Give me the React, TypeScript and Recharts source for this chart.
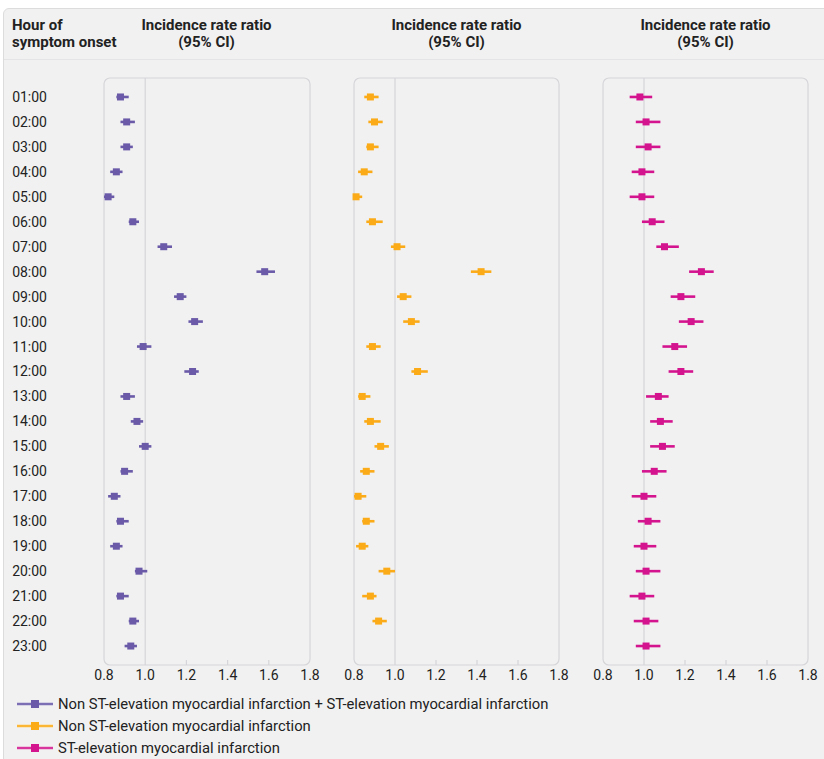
import React from "react"
import {
  ScatterChart,
  Scatter,
  XAxis,
  YAxis,
  ErrorBar,
  ReferenceLine,
  ReferenceArea,
} from "recharts"

const hours = [
  "01:00", "02:00", "03:00", "04:00", "05:00", "06:00", "07:00", "08:00",
  "09:00", "10:00", "11:00", "12:00", "13:00", "14:00", "15:00", "16:00",
  "17:00", "18:00", "19:00", "20:00", "21:00", "22:00", "23:00",
]

// NSTEMI + STEMI
const allRate = [0.88, 0.91, 0.91, 0.86, 0.82, 0.94, 1.09, 1.58, 1.17, 1.24, 0.99, 1.23, 0.91, 0.96, 1.0, 0.9, 0.85, 0.88, 0.86, 0.97, 0.88, 0.94, 0.93]
const allLow = [0.86, 0.88, 0.88, 0.83, 0.8, 0.92, 1.06, 1.54, 1.14, 1.21, 0.96, 1.19, 0.88, 0.93, 0.97, 0.88, 0.82, 0.86, 0.83, 0.95, 0.86, 0.92, 0.9]
const allHigh = [0.92, 0.95, 0.94, 0.89, 0.85, 0.97, 1.13, 1.63, 1.2, 1.28, 1.03, 1.26, 0.95, 0.99, 1.03, 0.94, 0.88, 0.92, 0.89, 1.01, 0.92, 0.97, 0.96]

// NSTEMI
const nstemiRate = [0.88, 0.9, 0.88, 0.85, 0.81, 0.89, 1.01, 1.42, 1.04, 1.08, 0.89, 1.11, 0.84, 0.88, 0.93, 0.86, 0.82, 0.86, 0.84, 0.96, 0.88, 0.92, null]
const nstemiLow = [0.85, 0.87, 0.86, 0.82, 0.8, 0.86, 0.98, 1.37, 1.01, 1.04, 0.86, 1.08, 0.82, 0.85, 0.9, 0.83, 0.8, 0.84, 0.81, 0.92, 0.84, 0.89, null]
const nstemiHigh = [0.92, 0.94, 0.92, 0.89, 0.84, 0.94, 1.05, 1.47, 1.08, 1.12, 0.93, 1.16, 0.88, 0.93, 0.97, 0.9, 0.86, 0.9, 0.87, 1.0, 0.91, 0.96, null]

// STEMI
const stemiRate = [0.98, 1.01, 1.02, 0.99, 0.99, 1.04, 1.1, 1.28, 1.18, 1.23, 1.15, 1.18, 1.07, 1.08, 1.09, 1.05, 1.0, 1.02, 1.0, 1.01, 0.99, 1.01, 1.01]
const stemiLow = [0.93, 0.96, 0.96, 0.94, 0.93, 0.99, 1.06, 1.22, 1.13, 1.17, 1.09, 1.12, 1.01, 1.03, 1.03, 0.99, 0.94, 0.97, 0.95, 0.96, 0.93, 0.95, 0.96]
const stemiHigh = [1.04, 1.08, 1.08, 1.05, 1.05, 1.1, 1.17, 1.34, 1.25, 1.29, 1.21, 1.24, 1.12, 1.14, 1.15, 1.11, 1.06, 1.08, 1.06, 1.08, 1.05, 1.07, 1.08]

const xTicks = [0.8, 1.0, 1.2, 1.4, 1.6, 1.8]

const legendLabels = [
  "Non ST-elevation myocardial infarction + ST-elevation myocardial infarction",
  "Non ST-elevation myocardial infarction",
  "ST-elevation myocardial infarction",
]

const colors = ["#6a5aa8", "#fbab18", "#d3148e"]
const haloColors = ["#b9b1d8", "#fdd791", "#eb9ccb"]

const Y_MIN = -0.76
const Y_MAX = 22.76
const BORDER = "#d6d6da"

function buildRows(rate: (number | null)[], low: (number | null)[], high: (number | null)[]) {
  const rows: { x: number; y: number; err: [number, number] }[] = []
  rate.forEach((r, i) => {
    if (r == null) return
    rows.push({ x: r, y: i, err: [r - (low[i] as number), (high[i] as number) - r] })
  })
  return rows
}

const series = [
  buildRows(allRate, allLow, allHigh),
  buildRows(nstemiRate, nstemiLow, nstemiHigh),
  buildRows(stemiRate, stemiLow, stemiHigh),
]

const Square = (color: string) => (props: any) => {
  const { cx, cy } = props
  if (cx == null || cy == null) return null
  return <rect x={cx - 3.5} y={cy - 3.5} width={7} height={7} fill={color} />
}

function Panel({ idx, left }: { idx: number; left: number }) {
  const first = idx === 0
  const width = first ? 330 : 245
  return (
    <div style={{ position: "absolute", left, top: 0 }}>
      <ScatterChart
        width={width}
        height={700}
        margin={{ top: 78, right: 20, left: first ? 44 : 20, bottom: 5 }}
      >
        <XAxis
          type="number"
          dataKey="x"
          domain={[0.8, 1.8]}
          ticks={xTicks}
          tickFormatter={(v: number) => v.toFixed(1)}
          axisLine={false}
          tickLine={false}
          tickSize={0}
          tickMargin={5}
          height={30}
          interval={0}
          tick={{ fontSize: 14, fill: "#222" }}
        />
        <YAxis
          type="number"
          dataKey="y"
          domain={[Y_MIN, Y_MAX]}
          reversed
          ticks={hours.map((_, i) => i)}
          tickFormatter={(v: number) => hours[v]}
          interval={0}
          hide={!first}
          width={60}
          axisLine={false}
          tickLine={false}
          tickSize={0}
          tickMargin={57}
          tick={{ fontSize: 14, fill: "#222" }}
        />
        <ReferenceArea
          x1={0.8}
          x2={1.8}
          y1={Y_MIN}
          y2={Y_MAX}
          fill="none"
          stroke={BORDER}
          strokeWidth={1.2}
          radius={6}
        />
        <ReferenceLine x={1} stroke={BORDER} strokeWidth={1.2} />
        {xTicks.slice(2, 5).map((t) => (
          <ReferenceLine
            key={t}
            segment={[
              { x: t, y: Y_MAX },
              { x: t, y: Y_MAX - 0.2 },
            ]}
            stroke={BORDER}
            strokeWidth={1.2}
          />
        ))}
        <Scatter
          data={series[idx]}
          fill={colors[idx]}
          shape={Square(colors[idx])}
          isAnimationActive={false}
        >
          <ErrorBar
            dataKey="err"
            direction="x"
            width={0}
            stroke={colors[idx]}
            strokeWidth={2.6}
          />
        </Scatter>
      </ScatterChart>
    </div>
  )
}

export default function App() {
  const headStyle: React.CSSProperties = {
    position: "absolute",
    top: 17,
    width: 205,
    textAlign: "center",
    fontWeight: 700,
    fontSize: 15,
    lineHeight: "17px",
    color: "#222",
    whiteSpace: "nowrap",
  }
  return (
    <div
      style={{
        position: "absolute",
        left: 0,
        top: 0,
        width: 824,
        height: 759,
        overflow: "hidden",
        background: "#fff",
        fontFamily: "Roboto, 'Noto Sans', sans-serif",
      }}
    >
      <div
        style={{
          position: "absolute",
          left: 3,
          top: 8,
          width: 840,
          height: 780,
          background: "#f1f1f1",
          border: "1px solid #dcdcdc",
          borderRadius: 6,
        }}
      />
      <div style={{ position: "absolute", left: 4, top: 59, width: 824, height: 1, background: "#e4e4e6" }} />
      <div style={{ ...headStyle, left: 12, width: 120, textAlign: "left" }}>
        Hour of
        <br />
        symptom onset
      </div>
      {[104, 354, 603].map((l) => (
        <div key={l} style={{ ...headStyle, left: l }}>
          Incidence rate ratio
          <br />
          (95% CI)
        </div>
      ))}
      <Panel idx={0} left={0} />
      <Panel idx={1} left={334} />
      <Panel idx={2} left={583} />
      {legendLabels.map((label, i) => (
        <div
          key={label}
          style={{
            position: "absolute",
            left: 17,
            top: 693 + i * 22,
            height: 22,
            display: "flex",
            alignItems: "center",
            fontSize: 14.8,
            color: "#222",
            whiteSpace: "nowrap",
          }}
        >
          <svg width={36} height={10} style={{ marginRight: 5 }}>
            <line x1={0} y1={5} x2={36} y2={5} stroke={haloColors[i]} strokeWidth={3} />
            <line x1={0} y1={5} x2={36} y2={5} stroke={colors[i]} strokeWidth={1.6} />
            <rect x={14} y={1} width={8} height={8} fill={colors[i]} />
          </svg>
          {label}
        </div>
      ))}
    </div>
  )
}
